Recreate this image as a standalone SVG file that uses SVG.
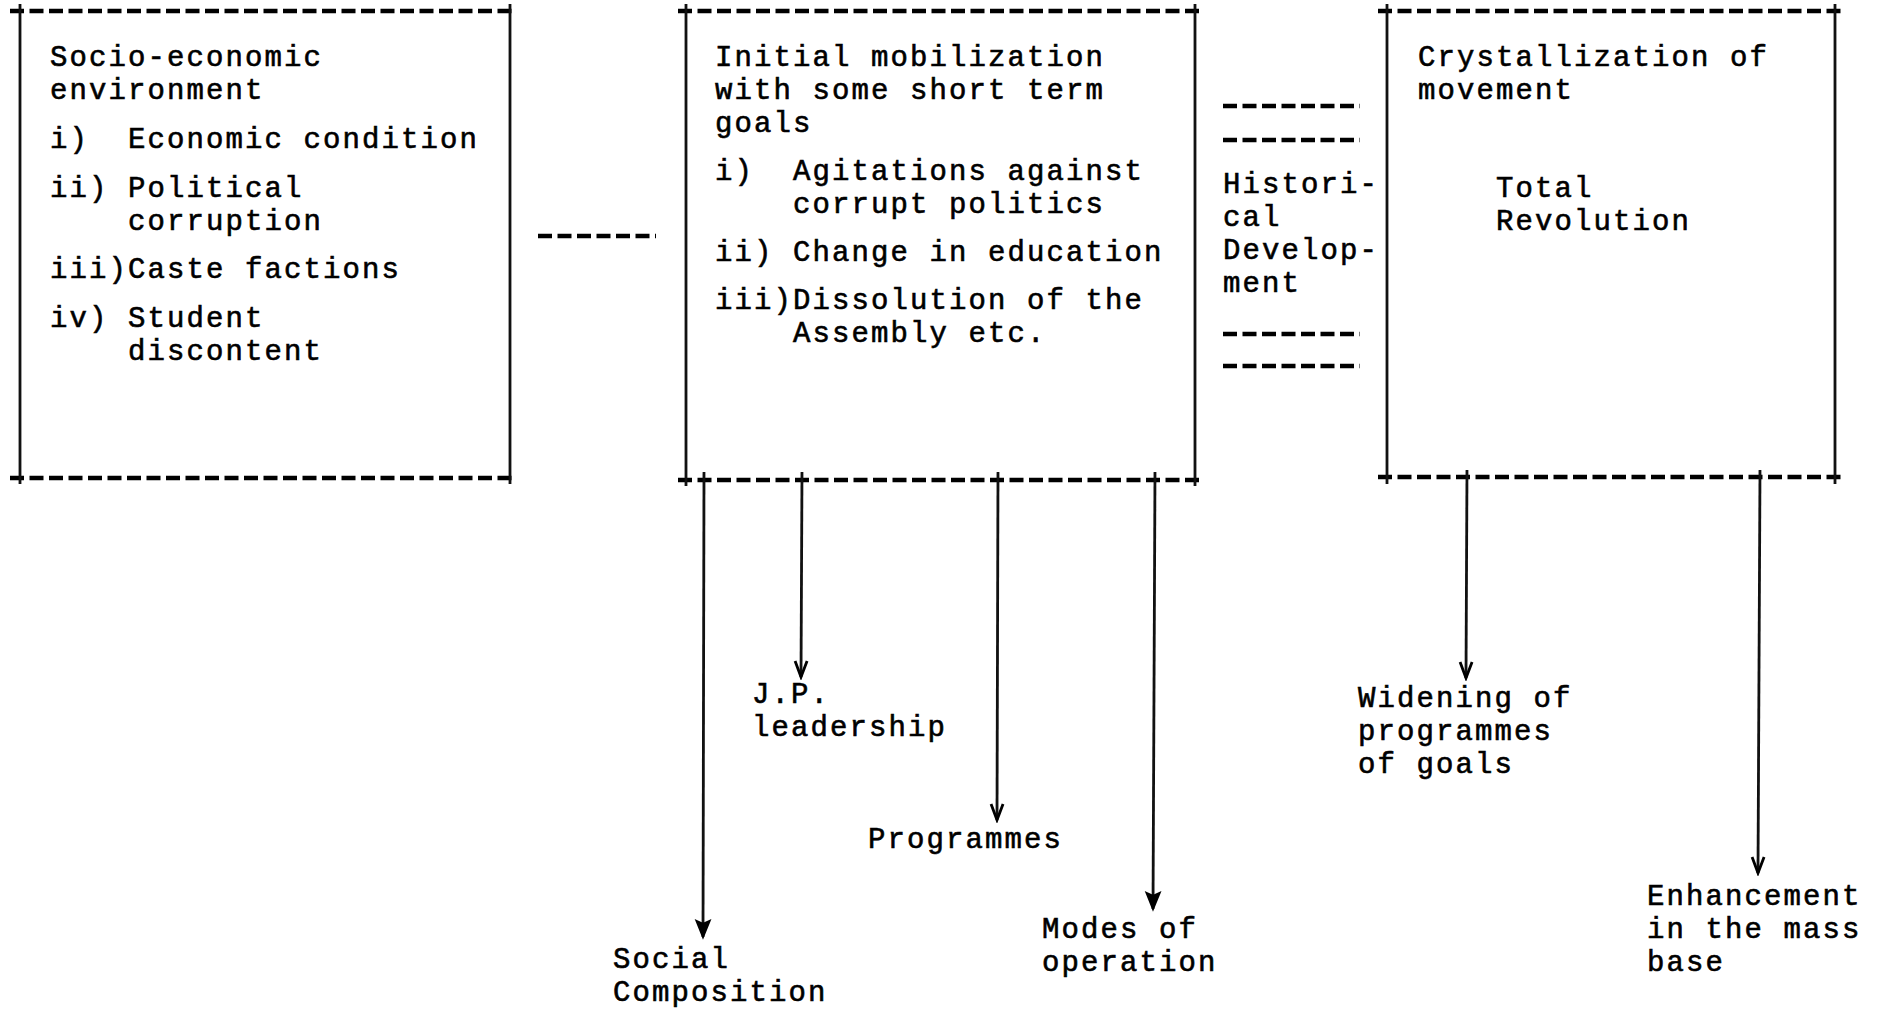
<svg xmlns="http://www.w3.org/2000/svg" width="1882" height="1009" viewBox="0 0 1882 1009">
<style>
.dash{stroke:#000;stroke-width:4.5;stroke-dasharray:14 5.5;fill:none}
.rule{stroke:#111;stroke-width:2.8;fill:none}
.t{font-family:"Liberation Mono","Courier New",monospace;font-size:29px;letter-spacing:2.1px;white-space:pre;fill:#000;stroke:#000;stroke-width:0.6}
.arr{stroke:#111;stroke-width:2.8;fill:none}
</style>
<defs>
<marker id="v" markerUnits="userSpaceOnUse" markerWidth="22" markerHeight="18" viewBox="-1 -9 18 18" refX="16" refY="0" orient="auto">
<path d="M0,-6 L16,0 L0,6" fill="none" stroke="#000" stroke-width="2.8"/>
</marker>
<marker id="f" markerUnits="userSpaceOnUse" markerWidth="22" markerHeight="18" viewBox="-1 -9 18 18" refX="16" refY="0" orient="auto">
<path d="M0,-6.5 L16,0 L0,6.5 L3,0 Z" fill="#000" stroke="#000" stroke-width="2"/>
</marker>
</defs>
<rect width="1882" height="1009" fill="#fff"/>

<g id="node-socio-economic">
<line class="dash" x1="10" y1="11" x2="516" y2="11"/>
<line class="dash" x1="10" y1="478" x2="516" y2="478"/>
<line class="rule" x1="20" y1="4" x2="20" y2="484"/>
<line class="rule" x1="510" y1="4" x2="510" y2="484"/>
<text class="t" x="50" y="66">Socio-economic</text>
<text class="t" x="50" y="99">environment</text>
<text class="t" x="50" y="148" xml:space="preserve">i)  Economic condition</text>
<text class="t" x="50" y="197">ii) Political</text>
<text class="t" x="128" y="230">corruption</text>
<text class="t" x="50" y="278">iii)Caste factions</text>
<text class="t" x="50" y="327">iv) Student</text>
<text class="t" x="128" y="360">discontent</text>
</g>

<g id="node-initial-mobilization">
<line class="dash" x1="678" y1="11" x2="1201" y2="11"/>
<line class="dash" x1="678" y1="480" x2="1201" y2="480"/>
<line class="rule" x1="686" y1="4" x2="686" y2="486"/>
<line class="rule" x1="1195" y1="4" x2="1195" y2="486"/>
<text class="t" x="715" y="66">Initial mobilization</text>
<text class="t" x="715" y="99">with some short term</text>
<text class="t" x="715" y="132">goals</text>
<text class="t" x="715" y="180" xml:space="preserve">i)  Agitations against</text>
<text class="t" x="793" y="213">corrupt politics</text>
<text class="t" x="715" y="261">ii) Change in education</text>
<text class="t" x="715" y="309">iii)Dissolution of the</text>
<text class="t" x="793" y="342">Assembly etc.</text>
</g>

<g id="node-crystallization">
<line class="dash" x1="1378" y1="11" x2="1843" y2="11"/>
<line class="dash" x1="1378" y1="477" x2="1843" y2="477"/>
<line class="rule" x1="1387" y1="4" x2="1387" y2="484"/>
<line class="rule" x1="1835" y1="4" x2="1835" y2="484"/>
<text class="t" x="1418" y="66">Crystallization of</text>
<text class="t" x="1418" y="99">movement</text>
<text class="t" x="1496" y="197">Total</text>
<text class="t" x="1496" y="230">Revolution</text>
</g>

<g id="label-jp"><text class="t" x="752" y="703">J.P.</text><text class="t" x="752" y="736">leadership</text></g>
<g id="label-social"><text class="t" x="613" y="968">Social</text><text class="t" x="613" y="1001">Composition</text></g>
<g id="label-programmes"><text class="t" x="868" y="848">Programmes</text></g>
<g id="label-modes"><text class="t" x="1042" y="938">Modes of</text><text class="t" x="1042" y="971">operation</text></g>
<g id="label-widening"><text class="t" x="1358" y="707">Widening of</text><text class="t" x="1358" y="740">programmes</text><text class="t" x="1358" y="773">of goals</text></g>
<g id="label-enhancement"><text class="t" x="1647" y="905">Enhancement</text><text class="t" x="1647" y="938">in the mass</text><text class="t" x="1647" y="971">base</text></g>

<g id="connectors">
<line class="dash" x1="538" y1="236" x2="656" y2="236"/>
<line class="dash" x1="1223" y1="106" x2="1360" y2="106"/>
<line class="dash" x1="1223" y1="140" x2="1360" y2="140"/>
<line class="dash" x1="1223" y1="334" x2="1360" y2="334"/>
<line class="dash" x1="1223" y1="366" x2="1360" y2="366"/>
<g id="label-historical">
<text class="t" x="1223" y="193">Histori-</text>
<text class="t" x="1223" y="226">cal</text>
<text class="t" x="1223" y="259">Develop-</text>
<text class="t" x="1223" y="292">ment</text>
</g>
<line class="arr" x1="704" y1="472" x2="703" y2="937" marker-end="url(#f)"/>
<line class="arr" x1="802" y1="472" x2="801" y2="677" marker-end="url(#v)"/>
<line class="arr" x1="998" y1="472" x2="997" y2="820" marker-end="url(#v)"/>
<line class="arr" x1="1155" y1="472" x2="1153" y2="909" marker-end="url(#f)"/>
<line class="arr" x1="1467" y1="470" x2="1466" y2="678" marker-end="url(#v)"/>
<line class="arr" x1="1760" y1="470" x2="1758" y2="873" marker-end="url(#v)"/>
</g>
</svg>
